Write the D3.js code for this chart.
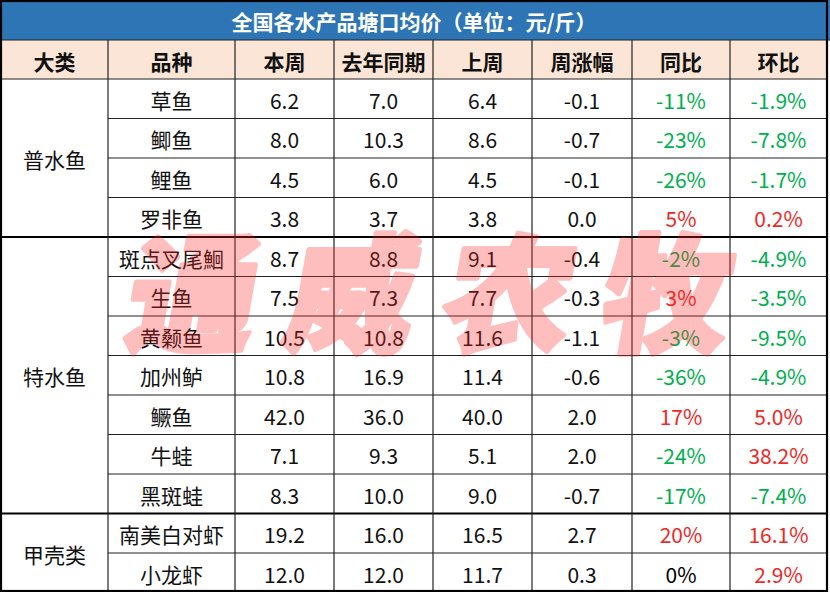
<!DOCTYPE html>
<html><head><meta charset="utf-8">
<script src="https://cdn.jsdelivr.net/npm/d3@7/dist/d3.min.js"></script>
<style>body{margin:0;background:#fff}svg{display:block}</style>
</head><body>
<svg id="c" width="830" height="592"></svg>
<script>
const title = "全国各水产品塘口均价（单位：元/斤）";
const headers = ["大类","品种","本周","去年同期","上周","周涨幅","同比","环比"];
const groups = ["普水鱼","特水鱼","甲壳类"];
const groupSizes = [4,7,2];
const species = ["草鱼","鲫鱼","鲤鱼","罗非鱼","斑点叉尾鮰","生鱼","黄颡鱼","加州鲈","鳜鱼","牛蛙","黑斑蛙","南美白对虾","小龙虾"];
const thisWeek = ["6.2","8.0","4.5","3.8","8.7","7.5","10.5","10.8","42.0","7.1","8.3","19.2","12.0"];
const lastYear = ["7.0","10.3","6.0","3.7","8.8","7.3","10.8","16.9","36.0","9.3","10.0","16.0","12.0"];
const lastWeek = ["6.4","8.6","4.5","3.8","9.1","7.7","11.6","11.4","40.0","5.1","9.0","16.5","11.7"];
const weekChange = ["-0.1","-0.7","-0.1","0.0","-0.4","-0.3","-1.1","-0.6","2.0","2.0","-0.7","2.7","0.3"];
const yoy = ["-11%","-23%","-26%","5%","-2%","3%","-3%","-36%","17%","-24%","-17%","20%","0%"];
const mom = ["-1.9%","-7.8%","-1.7%","0.2%","-4.9%","-3.5%","-9.5%","-4.9%","5.0%","38.2%","-7.4%","16.1%","2.9%"];
const watermark = "通威农牧";

const svg = d3.select("#c");
const W = 830;
const font = "'Noto Sans CJK SC','Noto Sans',sans-serif";
const colEdges = [1,108,235,334,433,532,632,730,827];
const x = d3.scaleOrdinal().domain(d3.range(9)).range(colEdges);
const titleH = 40, headerTop = 40, headerBottom = 79, bottom = 592;
const y = d3.scaleBand().domain(d3.range(species.length)).range([headerBottom, bottom + 0.5]).padding(0);
const green = "#00B050", red = "#F02828";
const colorOf = v => { const n = parseFloat(v); return n < 0 ? green : n > 0 ? red : "#000"; };

// title bar
svg.append("rect").attr("x",0).attr("y",0).attr("width",W).attr("height",titleH).attr("fill","#2E75B6");
svg.append("text").attr("x",(x(0)+x(8))/2).attr("y",titleH/2+1).attr("text-anchor","middle")
  .attr("dominant-baseline","central").attr("fill","#fff").attr("font-family",font)
  .attr("font-weight","bold").attr("font-size",21).text(title);

// header row
svg.append("rect").attr("x",x(0)).attr("y",headerTop).attr("width",x(8)-x(0)).attr("height",headerBottom-headerTop).attr("fill","#FBE5D6");
headers.forEach((h,i)=>{
  svg.append("text").attr("x",(x(i)+x(i+1))/2).attr("y",(headerTop+headerBottom)/2+1)
    .attr("text-anchor","middle").attr("dominant-baseline","central").attr("font-family",font)
    .attr("font-weight","bold").attr("font-size",21).attr("fill","#111").text(h);
});

// data cells
const cols = [species,thisWeek,lastYear,lastWeek,weekChange,yoy,mom];
species.forEach((s,r)=>{
  cols.forEach((arr,ci)=>{
    const c = ci+1;
    svg.append("text").attr("x",(x(c)+x(c+1))/2).attr("y",y(r)+y.bandwidth()/2+1)
      .attr("text-anchor","middle").attr("dominant-baseline","central").attr("font-family",font)
      .attr("font-size",21).attr("fill", c>=6 ? colorOf(arr[r]) : "#111").text(arr[r]);
  });
});

// group labels
let start = 0;
const groupStarts = [];
groups.forEach((g,i)=>{
  const end = start + groupSizes[i];
  groupStarts.push(start);
  const yc = (y(start) + y(end-1) + y.bandwidth())/2;
  svg.append("text").attr("x",(x(0)+x(1))/2).attr("y",yc+1).attr("text-anchor","middle")
    .attr("dominant-baseline","central").attr("font-family",font).attr("font-size",21).attr("fill","#111").text(g);
  start = end;
});

// grid lines
const grid = svg.append("g").attr("stroke","#222");
species.forEach((s,r)=>{
  if (r>0 && !groupStarts.includes(r)) {
    grid.append("line").attr("x1",x(1)).attr("x2",x(8)).attr("y1",y(r)).attr("y2",y(r)).attr("stroke-width",1.2);
  }
});
groupStarts.slice(1).forEach(r=>{
  grid.append("line").attr("x1",x(0)).attr("x2",x(8)).attr("y1",y(r)).attr("y2",y(r)).attr("stroke","#000").attr("stroke-width",2.2);
});
grid.append("line").attr("x1",0).attr("x2",W).attr("y1",headerTop).attr("y2",headerTop).attr("stroke-width",1.2);
grid.append("line").attr("x1",x(0)).attr("x2",x(8)).attr("y1",headerBottom).attr("y2",headerBottom).attr("stroke-width",1.2);
d3.range(1,8).forEach(c=>{
  grid.append("line").attr("x1",x(c)).attr("x2",x(c)).attr("y1",headerTop).attr("y2",bottom).attr("stroke-width",1.2);
});
svg.append("rect").attr("x",1).attr("y",1).attr("width",x(8)-1).attr("height",bottom-2)
  .attr("fill","none").attr("stroke","#000").attr("stroke-width",2.2);

// watermark
const wx = 448, wy = 286;
svg.append("text").attr("x",wx).attr("y",wy).attr("text-anchor","middle").attr("dominant-baseline","central")
  .attr("font-family",font).attr("font-weight","900").attr("font-size",128).attr("letter-spacing",30)
  .attr("fill","#FF2A2A").attr("stroke","#FF2A2A").attr("stroke-width",5).attr("stroke-linejoin","round")
  .attr("opacity",0.3)
  .attr("transform",`translate(${wx},${wy}) skewX(-10) translate(${-wx},${-wy})`).text(watermark);
</script>
</body></html>
